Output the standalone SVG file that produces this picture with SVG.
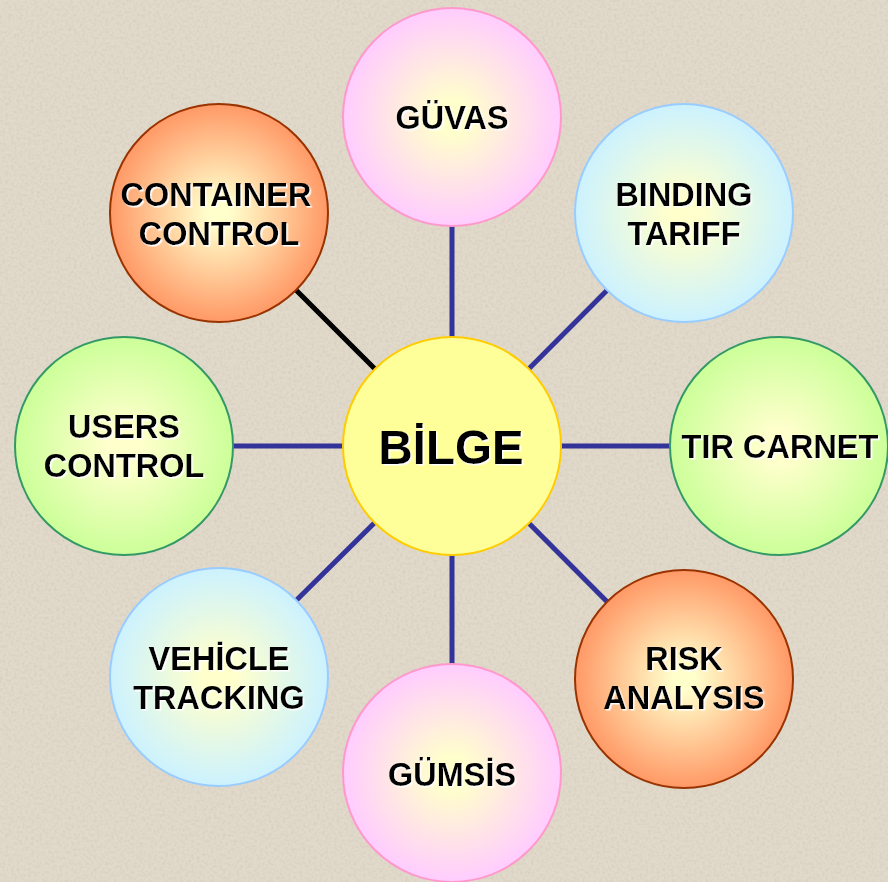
<svg xmlns="http://www.w3.org/2000/svg" width="888" height="882" viewBox="0 0 888 882">
<style>
.lbl{font-family:"Liberation Sans",Arial,sans-serif;font-weight:bold;font-size:32.5px;fill:#000;text-anchor:middle;filter:url(#shadow)}
.big{font-size:47.5px}
.con{stroke:#333399;stroke-width:5;fill:none}
.blk{stroke:#000;stroke-width:5;fill:none}
.pink{fill:url(#gPink);stroke:#ff99cc;stroke-width:2}
.blue{fill:url(#gBlue);stroke:#99ccff;stroke-width:2}
.green{fill:url(#gGreen);stroke:#339966;stroke-width:2}
.orange{fill:url(#gOrange);stroke:#993300;stroke-width:2}
.center{fill:#ffff99;stroke:#ffcc00;stroke-width:2}
</style>
<defs>
<radialGradient id="gPink"><stop offset="0" stop-color="#ffffcc"/><stop offset="0.15" stop-color="#ffffcc"/><stop offset="1" stop-color="#ffccff"/></radialGradient>
<radialGradient id="gBlue"><stop offset="0" stop-color="#ffffcc"/><stop offset="0.15" stop-color="#ffffcc"/><stop offset="1" stop-color="#ccf2ff"/></radialGradient>
<radialGradient id="gGreen"><stop offset="0" stop-color="#ffffcc"/><stop offset="0.15" stop-color="#ffffcc"/><stop offset="1" stop-color="#ccff99"/></radialGradient>
<radialGradient id="gOrange"><stop offset="0" stop-color="#ffffcc"/><stop offset="0.1" stop-color="#ffffcc"/><stop offset="1" stop-color="#ff9966"/></radialGradient>
<filter id="shadow" x="-10%" y="-10%" width="120%" height="130%">
<feDropShadow dx="1.5" dy="1.5" stdDeviation="0" flood-color="#ffffff" flood-opacity="1"/>
</filter>
<filter id="noise" x="0" y="0" width="100%" height="100%">
<feTurbulence type="fractalNoise" baseFrequency="0.35" numOctaves="2" seed="3"/>
<feColorMatrix type="matrix" values="0 0 0 0 0.55  0 0 0 0 0.5  0 0 0 0 0.42  0 0 0 -1.6 0.95"/>
</filter>
</defs>
<rect width="888" height="882" fill="#e1d9ca"/>
<rect width="888" height="882" filter="url(#noise)" opacity="0.45"/>
<g id="connectors">
<line class="con" x1="452" y1="446" x2="452" y2="117"/>
<line class="con" x1="452" y1="446" x2="684" y2="213"/>
<line class="con" x1="452" y1="446" x2="779" y2="446"/>
<line class="con" x1="452" y1="446" x2="684" y2="679"/>
<line class="con" x1="452" y1="446" x2="452" y2="773"/>
<line class="con" x1="452" y1="446" x2="219" y2="677"/>
<line class="con" x1="452" y1="446" x2="124" y2="446"/>
<line class="blk" x1="452" y1="446" x2="219" y2="213"/>
</g>
<g id="guvas"><circle class="pink" cx="452" cy="117" r="109"/><text class="lbl" x="452" y="129">GÜVAS</text></g>
<g id="binding-tariff"><circle class="blue" cx="684" cy="213" r="109"/><text class="lbl" x="684" y="206">BINDING</text><text class="lbl" x="684" y="245">TARIFF</text></g>
<g id="tir-carnet"><circle class="green" cx="779" cy="446" r="109"/><text class="lbl" x="780" y="458">TIR CARNET</text></g>
<g id="risk-analysis"><circle class="orange" cx="684" cy="679" r="109"/><text class="lbl" x="684" y="670">RISK</text><text class="lbl" x="684" y="709">ANALYSIS</text></g>
<g id="gumsis"><circle class="pink" cx="452" cy="773" r="109"/><text class="lbl" x="452" y="786">GÜMSİS</text></g>
<g id="vehicle-tracking"><circle class="blue" cx="219" cy="677" r="109"/><text class="lbl" x="219" y="670">VEHİCLE</text><text class="lbl" x="219" y="709">TRACKING</text></g>
<g id="users-control"><circle class="green" cx="124" cy="446" r="109"/><text class="lbl" x="124" y="438">USERS</text><text class="lbl" x="124" y="477">CONTROL</text></g>
<g id="container-control"><circle class="orange" cx="219" cy="213" r="109"/><text class="lbl" x="216" y="206">CONTAINER</text><text class="lbl" x="219" y="245">CONTROL</text></g>
<g id="bilge"><circle class="center" cx="452" cy="446" r="109"/><text class="lbl big" x="451" y="464">BİLGE</text></g>
</svg>
